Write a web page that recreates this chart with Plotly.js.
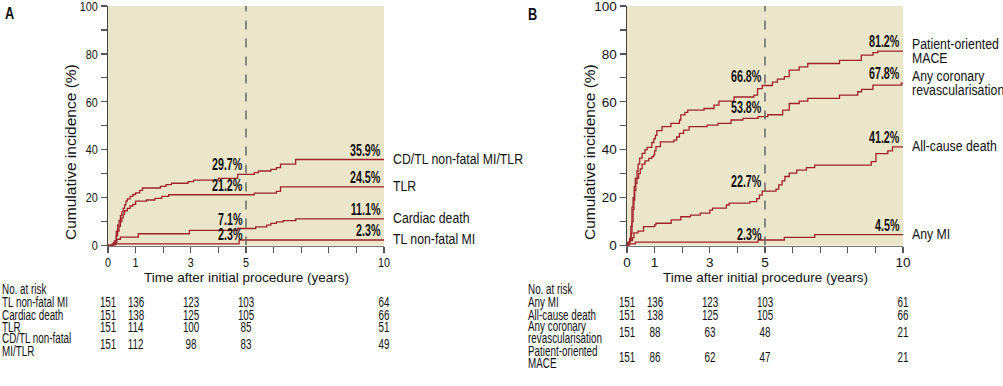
<!DOCTYPE html>
<html><head><meta charset="utf-8">
<script src="https://cdn.plot.ly/plotly-3.0.1.min.js"></script>
<style>html,body{margin:0;padding:0;background:#fff;} #chart{width:1003px;height:386px;}</style>
</head><body><div id="chart"></div>
<script>
// ---------- Panel A data ----------
const A_names = ['CD/TL non-fatal MI/TLR', 'TLR', 'Cardiac death', 'TL non-fatal MI'];
const A_cdtl_t = [0, 0.15, 0.2, 0.25, 0.3, 0.35, 0.4, 0.45, 0.5, 0.55, 0.6, 0.65, 0.7, 0.8, 0.9, 1.0, 1.15, 1.25, 1.9, 2.1, 2.3, 2.9, 3.1, 4.0, 4.7, 5.3, 5.45, 5.9, 6.1, 6.25, 6.8, 10];
const A_cdtl_v = [0, 0.7, 1.3, 2.0, 6.0, 8.5, 10.5, 12.5, 14.0, 15.5, 17.0, 18.5, 19.5, 20.5, 21.3, 22.0, 23.0, 24.0, 24.7, 25.4, 26.0, 26.7, 27.3, 28.0, 29.7, 30.4, 31.1, 31.8, 32.5, 34.0, 35.9, 35.9];
const A_tlr_t = [0, 0.2, 0.25, 0.3, 0.35, 0.4, 0.45, 0.5, 0.55, 0.6, 0.7, 0.8, 0.9, 1.0, 1.4, 1.7, 1.95, 2.2, 5.3, 6.1, 6.25, 10];
const A_tlr_v = [0, 0.7, 2.0, 4.0, 6.0, 8.0, 10.0, 11.5, 13.0, 14.5, 15.5, 16.5, 17.2, 18.5, 19.0, 19.7, 20.5, 21.2, 21.9, 22.6, 24.5, 24.5];
const A_cd_t = [0, 0.28, 0.32, 0.45, 1.1, 2.95, 4.7, 5.35, 5.75, 5.9, 6.1, 6.35, 6.8, 10];
const A_cd_v = [0, 1.3, 2.6, 3.5, 4.9, 6.3, 7.1, 7.8, 8.5, 9.2, 9.9, 10.4, 11.1, 11.1];
const A_mi_t = [0, 0.2, 4.75, 10];
const A_mi_v = [0, 0.7, 2.3, 2.3];
const A_at5 = [29.7, 21.2, 7.1, 2.3];
const A_at10 = [35.9, 24.5, 11.1, 2.3];
const A_riskLabels = [['TL non-fatal MI'], ['Cardiac death'], ['TLR'], ['CD/TL non-fatal', 'MI/TLR']];
const A_risk = [[151, 136, 123, 103, 64], [151, 138, 125, 105, 66], [151, 114, 100, 85, 51], [151, 112, 98, 83, 49]];

// ---------- Panel B data ----------
const B_names = [['Patient-oriented', 'MACE'], ['Any coronary', 'revascularisation'], ['All-cause death'], ['Any MI']];
const B_mace_t = [0, 0.05, 0.1, 0.14, 0.18, 0.22, 0.26, 0.3, 0.36, 0.4, 0.46, 0.55, 0.65, 0.73, 0.9, 0.97, 1.03, 1.08, 1.27, 1.59, 1.9, 1.95, 2.1, 2.2, 2.79, 3.15, 3.33, 3.88, 4.6, 4.73, 4.9, 5.27, 5.45, 5.7, 5.88, 6.24, 6.55, 7.7, 8.49, 8.91, 9.09, 10];
const B_mace_v = [0, 1.3, 3.0, 8.0, 16.0, 20.0, 24.6, 28.0, 31.0, 34.0, 36.5, 38.5, 40.0, 41.0, 43.0, 44.5, 46.0, 48.0, 49.6, 51.0, 52.4, 54.5, 55.6, 56.5, 57.2, 58.6, 60.3, 62.0, 62.8, 65.5, 66.8, 68.2, 69.5, 70.5, 73.2, 74.6, 76.0, 77.3, 79.5, 80.5, 81.2, 81.2];
const B_rev_t = [0, 0.05, 0.1, 0.15, 0.18, 0.22, 0.25, 0.28, 0.32, 0.36, 0.42, 0.48, 0.55, 0.65, 0.79, 0.9, 0.97, 1.0, 1.05, 1.21, 1.7, 1.8, 1.9, 2.05, 2.25, 2.9, 3.3, 3.77, 4.2, 4.75, 5.1, 5.64, 5.88, 6.24, 6.55, 7.7, 8.36, 8.5, 8.91, 9.94, 10];
const B_rev_v = [0, 1.3, 2.6, 5.0, 10.0, 15.0, 19.0, 23.0, 26.0, 28.0, 30.0, 32.0, 34.0, 35.3, 36.4, 37.1, 37.8, 39.5, 41.3, 43.3, 44.0, 45.3, 46.8, 48.2, 49.6, 50.3, 51.0, 52.4, 53.1, 53.8, 54.6, 56.5, 59.3, 60.3, 61.4, 62.8, 64.2, 65.2, 67.0, 67.8, 67.8];
const B_acd_t = [0, 0.03, 0.1, 0.2, 0.25, 0.4, 0.6, 1.0, 1.05, 1.6, 1.95, 2.3, 2.65, 3.0, 3.1, 3.6, 3.7, 4.45, 4.7, 4.8, 4.9, 5.4, 5.5, 5.62, 5.72, 5.88, 6.15, 6.5, 6.8, 8.85, 9.02, 9.45, 9.62, 10];
const B_acd_v = [0, 1.3, 2.0, 3.3, 5.3, 6.0, 7.9, 8.6, 9.3, 10.7, 12.0, 12.7, 13.5, 14.8, 15.6, 16.9, 17.7, 18.3, 19.6, 21.0, 22.7, 23.5, 25.3, 27.0, 28.8, 30.2, 31.5, 32.5, 33.6, 35.0, 38.4, 39.5, 41.2, 41.2];
const B_mi_t = [0, 0.1, 0.3, 4.75, 5.7, 6.8, 10];
const B_mi_v = [0, 0.7, 1.4, 2.3, 3.4, 4.5, 4.5];
const B_at5 = [66.8, 53.8, 22.7, 2.3];
const B_at10 = [81.2, 67.8, 41.2, 4.5];
const B_riskLabels = [['Any MI'], ['All-cause death'], ['Any coronary', 'revascularisation'], ['Patient-oriented', 'MACE']];
const B_risk = [[151, 136, 123, 103, 61], [151, 138, 125, 105, 66], [151, 88, 63, 48, 21], [151, 86, 62, 47, 21]];

const riskYears = [0, 1, 3, 5, 10];
const xTickVals = [0, 1, 2, 3, 4, 5, 6, 7, 8, 9, 10];
const xTickText = ['0', '1', '', '3', '', '5', '', '', '', '', '10'];
const yTickVals = [0, 10, 20, 30, 40, 50, 60, 70, 80, 90, 100];
const yTickText = ['0', '', '20', '', '40', '', '60', '', '80', '', '100'];

// ---------- layout helpers ----------
const W = 1003, H = 386;
const py = p => 1 - p / H;
const pxp = p => p / W;
const SANS = "'Liberation Sans', Arial, sans-serif";
const LINE = '#a0202a';
const INK = '#111';

function curve(t, v, xa, ya) {
  return {x: t, y: v, xaxis: xa, yaxis: ya, type: 'scatter', mode: 'lines',
    line: {shape: 'hv', color: LINE, width: 1.3}, hoverinfo: 'skip', showlegend: false};
}
const traces = [
  curve(A_cdtl_t, A_cdtl_v, 'x', 'y'), curve(A_tlr_t, A_tlr_v, 'x', 'y'),
  curve(A_cd_t, A_cd_v, 'x', 'y'), curve(A_mi_t, A_mi_v, 'x', 'y'),
  curve(B_mace_t, B_mace_v, 'x2', 'y2'), curve(B_rev_t, B_rev_v, 'x2', 'y2'),
  curve(B_acd_t, B_acd_v, 'x2', 'y2'), curve(B_mi_t, B_mi_v, 'x2', 'y2')
];

// annotations + a parallel list of horizontal condensing (scale, pivot)
const ann = [], squeeze = [];
function add(a, s, pivot) { ann.push(a); squeeze.push(s ? [s, pivot] : null); }

function pctLabels(vals5, vals10, xr, yr) {
  [[5, vals5], [10, vals10]].forEach(([xv, vals]) => vals.forEach(v => add({x: xv, y: v, xref: xr, yref: yr,
    text: '<b>' + v.toFixed(1) + '%</b>', showarrow: false, xanchor: 'right', yanchor: 'bottom',
    xshift: -2, yshift: (xv === 5 && v < 3) ? -5 : -1,
    font: {family: SANS, size: 16, color: INK}}, 0.67, 'right')));
}
pctLabels(A_at5, A_at10, 'x', 'y');
pctLabels(B_at5, B_at10, 'x2', 'y2');

// series names at right
A_names.forEach((n, i) => add({x: 10, y: A_at10[i], xref: 'x', yref: 'y', text: n, showarrow: false,
  xanchor: 'left', yanchor: 'middle', xshift: 7, yshift: 1, font: {family: SANS, size: 15, color: INK}}, 0.82, 'left'));
B_names.forEach((lines, i) => {
  const n = lines.length;
  lines.forEach((ln, j) => add({x: 10, y: B_at10[i], xref: 'x2', yref: 'y2', text: ln, showarrow: false,
    xanchor: 'left', yanchor: 'middle', xshift: 7, yshift: 1 + ((n - 1) / 2 - j) * 14,
    font: {family: SANS, size: 15, color: INK}}, 0.82, 'left'));
});

// axis titles
[70, 589].forEach(xp => add({x: pxp(xp), y: py(152), xref: 'paper', yref: 'paper',
  text: 'Cumulative incidence (%)', textangle: -90, showarrow: false, xanchor: 'center', yanchor: 'middle',
  font: {family: SANS, size: 15.5, color: INK}}));
['x', 'x2'].forEach(xr => add({x: 5, y: py(277), xref: xr, yref: 'paper', text: 'Time after initial procedure (years)',
  showarrow: false, xanchor: 'center', yanchor: 'middle', font: {family: SANS, size: 13.5, color: INK}}));

// panel letters
add({x: pxp(3), y: py(13), xref: 'paper', yref: 'paper', text: '<b>A</b>', showarrow: false,
  xanchor: 'left', yanchor: 'middle', font: {family: SANS, size: 17, color: INK}}, 0.75, 'left');
add({x: pxp(526), y: py(14), xref: 'paper', yref: 'paper', text: '<b>B</b>', showarrow: false,
  xanchor: 'left', yanchor: 'middle', font: {family: SANS, size: 17, color: INK}}, 0.75, 'left');

// risk tables
const RF = {family: SANS, size: 14.5, color: INK};
const RS = 0.68;
function riskTable(labels, risk, xr, labelX, rowY, lineY) {
  add({x: pxp(labelX), y: py(289), xref: 'paper', yref: 'paper', text: 'No. at risk', showarrow: false,
    xanchor: 'left', yanchor: 'middle', font: RF}, RS, 'left');
  labels.forEach((lines, i) => {
    lines.forEach((ln, j) => add({x: pxp(labelX), y: py(lineY[i][j]), xref: 'paper', yref: 'paper', text: ln,
      showarrow: false, xanchor: 'left', yanchor: 'middle', font: RF}, RS, 'left'));
    risk[i].forEach((n, k) => add({x: riskYears[k], y: py(rowY[i]), xref: xr, yref: 'paper', text: String(n),
      showarrow: false, xanchor: 'center', yanchor: 'middle', font: RF}, RS, 'center'));
  });
}
riskTable(A_riskLabels, A_risk, 'x', 0, [302, 315, 327, 344], [[302], [315], [327], [338, 351]]);
riskTable(B_riskLabels, B_risk, 'x2', 526, [302, 315, 332, 357], [[302], [315], [326, 338], [351, 363]]);

function xax(dom, anchor) {
  return {domain: dom, anchor: anchor, range: [0, 10], tickmode: 'array', tickvals: xTickVals, ticktext: xTickText,
    ticks: 'outside', ticklen: 6, tickwidth: 1.2, tickcolor: '#555', showline: true, linecolor: '#777', linewidth: 1,
    showgrid: false, zeroline: false, ticklabelstandoff: -2, ticklabeloverflow: 'allow',
    tickfont: {family: SANS, size: 13.5, color: INK}, fixedrange: true};
}
function yax(anchor) {
  return {domain: [py(245.5), py(6)], anchor: anchor, range: [0, 100], tickmode: 'array', tickvals: yTickVals,
    ticktext: yTickText, ticks: 'outside', ticklen: 6, tickwidth: 1.2, tickcolor: '#555', showline: true,
    linecolor: '#444', linewidth: 1.5, showgrid: false, zeroline: false, ticklabeloverflow: 'allow',
    tickfont: {family: SANS, size: 13.5, color: INK}, fixedrange: true};
}

const layout = {
  width: W, height: H, margin: {l: 0, r: 0, t: 0, b: 0},
  paper_bgcolor: '#fff', plot_bgcolor: '#ebe5c9', showlegend: false,
  xaxis: xax([pxp(108), pxp(384)], 'y'), yaxis: yax('x'),
  xaxis2: xax([pxp(627), pxp(903)], 'y2'), yaxis2: yax('x2'),
  shapes: [
    {type: 'line', xref: 'x', yref: 'y', x0: 5, x1: 5, y0: 0, y1: 100, line: {color: '#666', width: 1.5, dash: 'dash'}, layer: 'above'},
    {type: 'line', xref: 'x2', yref: 'y2', x0: 5, x1: 5, y0: 0, y1: 100, line: {color: '#666', width: 1.5, dash: 'dash'}, layer: 'above'}
  ],
  annotations: ann
};

// horizontal condensing of text (mimics the condensed typeface of the original)
function condense(el, s, pivot) {
  const bb = el.getBBox();
  const p = pivot === 'left' ? bb.x : pivot === 'right' ? bb.x + bb.width : bb.x + bb.width / 2;
  const t = el.getAttribute('transform') || '';
  el.setAttribute('transform', (t + ' translate(' + p + ',0) scale(' + s + ',1) translate(' + (-p) + ',0)').trim());
}

Plotly.newPlot('chart', traces, layout, {staticPlot: true, displayModeBar: false}).then(gd => {
  gd.querySelectorAll('g.annotation').forEach(g => {
    const idx = +g.getAttribute('data-index');
    const sq = squeeze[idx];
    const txt = g.querySelector('text.annotation-text');
    if (sq && txt) condense(txt, sq[0], sq[1]);
  });
  gd.querySelectorAll('g.xtick text').forEach(t => condense(t, 0.8, 'center'));
  gd.querySelectorAll('g.ytick text').forEach(t => condense(t, 0.8, 'right'));
});
</script></body></html>
